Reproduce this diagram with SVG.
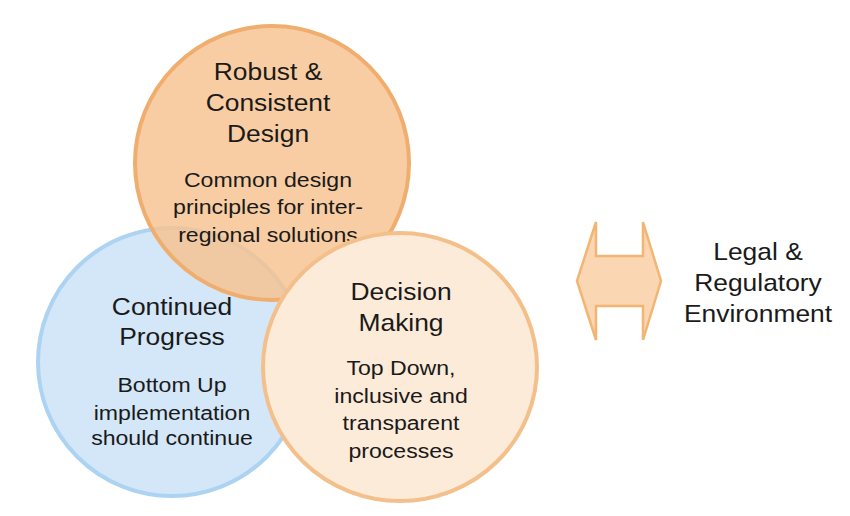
<svg xmlns="http://www.w3.org/2000/svg" width="850" height="516" viewBox="0 0 850 516">
<style>
text{font-family:"Liberation Sans",Arial,sans-serif;fill:#1a1a1a;text-anchor:middle}
.t{font-size:24px}
.s{font-size:21px}
</style>
<rect width="850" height="516" fill="#ffffff"/>
<g id="continued-progress">
<circle cx="172" cy="362" r="134" fill="#d3e7f8" stroke="#acd3f2" stroke-width="4"/>
</g>
<g id="robust-design">
<circle cx="272" cy="163" r="137" fill="#f6c28f" fill-opacity="0.82" stroke="#f0ae6e" stroke-width="4"/>
<g transform="matrix(1.1 0 0 1 268 0)">
<text class="t" x="0" y="80">Robust &amp;</text>
<text class="t" x="0" y="111">Consistent</text>
<text class="t" x="0" y="142">Design</text>
<text class="s" x="0" y="187">Common design</text>
<text class="s" x="0" y="214">principles for inter-</text>
<text class="s" x="0" y="242">regional solutions</text>
</g>
</g>
<g id="continued-progress-text" transform="matrix(1.1 0 0 1 172 0)">
<text class="t" x="0" y="315">Continued</text>
<text class="t" x="0" y="345">Progress</text>
<text class="s" x="0" y="392">Bottom Up</text>
<text class="s" x="0" y="420">implementation</text>
<text class="s" x="0" y="445">should continue</text>
</g>
<g id="decision-making">
<ellipse cx="400" cy="367" rx="137" ry="134" fill="#fdebd9" stroke="#f3c08c" stroke-width="4"/>
<g transform="matrix(1.1 0 0 1 401 0)">
<text class="t" x="0" y="300">Decision</text>
<text class="t" x="0" y="331">Making</text>
<text class="s" x="0" y="375">Top Down,</text>
<text class="s" x="0" y="403">inclusive and</text>
<text class="s" x="0" y="430">transparent</text>
<text class="s" x="0" y="458">processes</text>
</g>
</g>
<g id="connectors">
<polygon points="577,281 596,222 596,256 643,256 643,222 661,281 643,340 643,306 596,306 596,340" fill="#fad6b2" stroke="#f2b574" stroke-width="2.5" stroke-linejoin="miter"/>
</g>
<g id="legal-environment" transform="matrix(1.1 0 0 1 758 0)">
<text class="t" x="0" y="260">Legal &amp;</text>
<text class="t" x="0" y="291">Regulatory</text>
<text class="t" x="0" y="322">Environment</text>
</g>
</svg>
